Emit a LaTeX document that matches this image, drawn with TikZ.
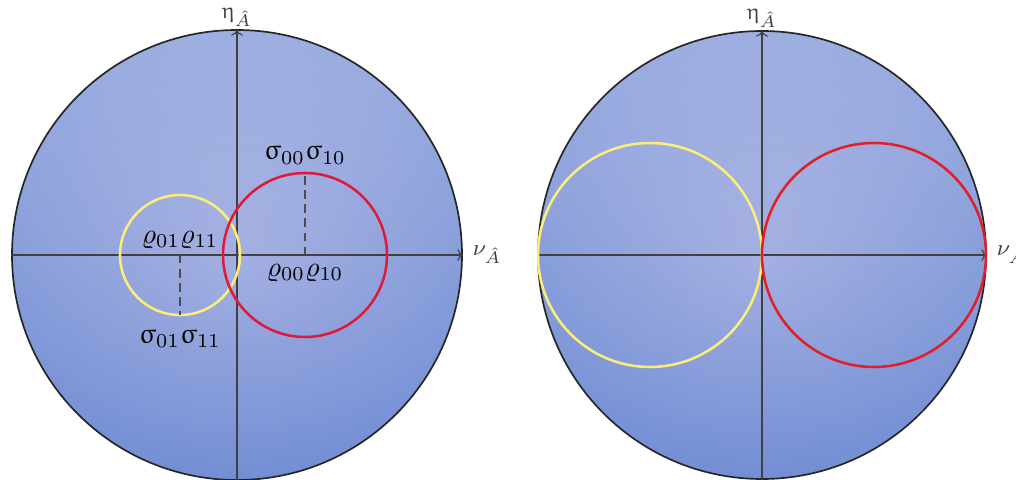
\documentclass[tikz,border=0pt]{standalone}
\usepackage{amsmath,amssymb}
\usepackage{upgreek}
\usepackage{xcolor}
\usepackage{tikz}
\usetikzlibrary{calc,arrows.meta,positioning}
\definecolor{blochIn}{RGB}{170,176,226}
\definecolor{blochOut}{RGB}{118,144,214}
\definecolor{blochTop}{RGB}{206,212,238}
\definecolor{blochBot}{RGB}{112,140,212}
\definecolor{qYellow}{RGB}{250,238,120}
\definecolor{qRed}{RGB}{224,24,58}
\definecolor{qRedB}{RGB}{226,30,40}

\begin{document}
\begin{tikzpicture}[x=0.0125cm,y=-0.0125cm]
\useasboundingbox (0,0) rectangle (1016,480);
\clip (0,0) rectangle (1016,480);
% left disk
\begin{scope}[shift={(237,255)}]
\shade[inner color=blochIn, outer color=blochOut] (0,0) circle (225);
\shade[top color=blochTop, bottom color=blochBot, opacity=0.45] (0,0) circle (225);
\draw[black!85, line width=0.6pt] (0,0) circle (225);
\coordinate (xl) at (-226,0);
\coordinate (xr) at (226,0);
\coordinate (yb) at (0,240);
\coordinate (yt) at (0,-225);
\draw[black!75, line width=0.4pt, -{To[length=2pt]}] (xl)--(xr) node[right, font=\footnotesize] (nuL) {$\nu_{\hat{A}}$};
\draw[black!75, line width=0.4pt, -{To[length=2pt]}] (yb)--(yt) node[above, font=\footnotesize, inner sep=1pt] (etaL) {$\upeta_{\hat{A}}$};
\coordinate (cy) at (-57,0);
\coordinate (cr) at (68,0);
\draw[qYellow, line width=0.9pt] (cy) circle (60);
\draw[qRed, line width=0.9pt] (cr) circle (82);
\coordinate (yBot) at ($(cy)+(0,60)$);
\coordinate (rTop) at ($(cr)+(0,-81)$);
\draw[black!70, densely dashed, line width=0.4pt] (cy)--(yBot);
\draw[black!70, densely dashed, line width=0.4pt] (cr)--(rTop);
\node[above=0pt of rTop] (sigR) {$\upsigma_{00}\upsigma_{10}$};
\node[anchor=south, inner sep=2pt] (rhoY) at (cy) {$\varrho_{01}\varrho_{11}$};
\node[anchor=north, inner sep=3pt] (rhoR) at (cr) {$\varrho_{00}\varrho_{10}$};
\node[below=2pt of yBot] (sigY) {$\upsigma_{01}\upsigma_{11}$};
\end{scope}
% right disk
\begin{scope}[shift={(762,255)}]
\shade[inner color=blochIn, outer color=blochOut] (0,0) circle (224);
\shade[top color=blochTop, bottom color=blochBot, opacity=0.45] (0,0) circle (224);
\draw[black!85, line width=0.6pt] (0,0) circle (224);
\coordinate (xl) at (-225,0);
\coordinate (xr) at (225,0);
\coordinate (yb) at (0,240);
\coordinate (yt) at (0,-224);
\draw[black!75, line width=0.4pt, -{To[length=2pt]}] (xl)--(xr) node[right, font=\footnotesize] (nuR) {$\nu_{\hat{A}}$};
\draw[black!75, line width=0.4pt, -{To[length=2pt]}] (yb)--(yt) node[above, font=\footnotesize, inner sep=1pt] (etaR) {$\upeta_{\hat{A}}$};
\draw[qYellow, line width=0.9pt] (-112,0) circle (112);
\draw[qRedB, line width=0.9pt] (112,0) circle (112);
\end{scope}
\end{tikzpicture}
\end{document}
